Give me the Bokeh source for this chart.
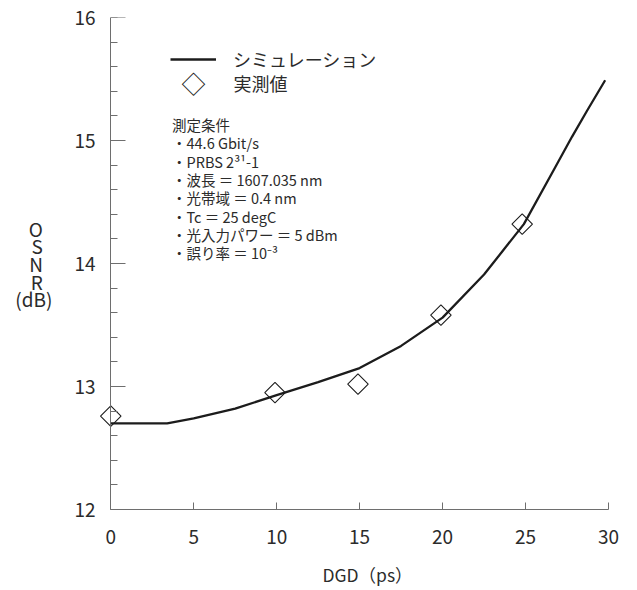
from bokeh.plotting import figure
from bokeh.models import (Range1d, SingleIntervalTicker, Label, Legend, LegendItem,
                          LinearAxis)
from bokeh.embed import file_html
from bokeh.resources import INLINE
import numpy as np

# ---- data ----
sim_dgd = [0, 3.4, 5, 7.5, 10, 12.5, 15, 17.5, 20, 22.5, 24.9, 26.7, 27.8, 28.7, 29.8]
sim_osnr = [12.70, 12.70, 12.74, 12.82, 12.93, 13.035, 13.15, 13.33, 13.56, 13.91, 14.32, 14.76, 15.03, 15.24, 15.49]
meas_dgd = [0.0, 9.9, 14.9, 19.9, 24.8]
meas_osnr = [12.76, 12.95, 13.02, 13.58, 14.32]

legend_labels = ["シミュレーション", "実測値"]
x_label = "DGD（ps）"
y_label_lines = ["O", "S", "N", "R", "(dB)"]
conditions = ["測定条件", "・44.6 Gbit/s", "・PRBS 2³¹-1", "・波長 ＝ 1607.035 nm",
              "・光帯域 ＝ 0.4 nm", "・Tc ＝ 25 degC", "・光入力パワー ＝ 5 dBm", "・誤り率 ＝ 10⁻³"]

FONT = "Noto Sans CJK JP"
TXT = "#2b2b2b"
AX = "#6e6e6e"
INK = "#1c1c1c"

W, H = 637, 590
BL, BR, BT, BB = 97, 0, 17, 81
FW, FH = W - BL - BR, H - BT - BB
PXU = 16.59                      # pixels per ps
XR = (-0.8, -0.8 + FW / PXU)
YR = (12, 16)

p = figure(width=W, height=H, output_backend="svg", toolbar_location=None,
           x_range=Range1d(*XR), y_range=Range1d(*YR),
           min_border_left=BL, min_border_right=BR, min_border_top=BT, min_border_bottom=BB)
p.outline_line_color = None
p.grid.visible = False
p.background_fill_color = "white"


def to_data(px, py):
    """figure pixel -> data coordinates"""
    xd = XR[0] + (px - BL) * (XR[1] - XR[0]) / FW
    yd = YR[1] - (py - BT) * (YR[1] - YR[0]) / FH
    return xd, yd


# ---- x axis ----
xa = p.xaxis[0]
xa.ticker = SingleIntervalTicker(interval=5, num_minor_ticks=0)
xa.bounds = (0, 30)
xa.major_tick_in = 7
xa.major_tick_out = 0
xa.minor_tick_in = 0
xa.minor_tick_out = 0
xa.major_label_standoff = 20
xa.major_label_text_font = FONT
xa.major_label_text_font_size = "19px"
xa.major_label_text_color = TXT
xa.axis_line_color = AX
xa.major_tick_line_color = AX
xa.axis_label = x_label
xa.axis_label_text_font = FONT
xa.axis_label_text_font_style = "normal"
xa.axis_label_text_font_size = "17.5px"
xa.axis_label_text_color = TXT
xa.axis_label_standoff = 15

# ---- y axis: tick labels and stacked title (at frame edge) ----
ya = p.yaxis[0]
ya.ticker = SingleIntervalTicker(interval=1, num_minor_ticks=0)
ya.axis_line_color = None
ya.major_tick_line_color = None
ya.minor_tick_line_color = None
ya.major_tick_in = 0
ya.major_tick_out = 0
ya.minor_tick_in = 0
ya.minor_tick_out = 0
ya.major_label_standoff = 2
ya.major_label_text_font = FONT
ya.major_label_text_font_size = "19px"
ya.major_label_text_color = TXT
# single letters padded with an en space so the right-aligned block looks centred
ya.axis_label = "\n".join(s if len(s) > 1 else s + "\u2002" for s in y_label_lines)
ya.axis_label_orientation = "horizontal"
ya.axis_label_text_font = FONT
ya.axis_label_text_font_style = "normal"
ya.axis_label_text_font_size = "19px"
ya.axis_label_text_color = TXT
ya.axis_label_text_line_height = 0.65
ya.axis_label_standoff = 19

# ---- y axis: line and inward ticks at DGD = 0 ----
yline = LinearAxis(fixed_location=0,
                   ticker=SingleIntervalTicker(interval=1, num_minor_ticks=5),
                   bounds=(12, 16),
                   axis_line_color=AX, major_tick_line_color=AX, minor_tick_line_color=AX,
                   major_tick_in=15, major_tick_out=0, minor_tick_in=7, minor_tick_out=0,
                   major_label_text_color=None, major_label_text_font_size="1px",
                   major_label_standoff=0)
p.add_layout(yline, "left")

# ---- data marks ----
r_line = p.line(sim_dgd, sim_osnr, line_color=INK, line_width=2.3)
r_pts = p.scatter(meas_dgd, meas_osnr, marker="square", angle=np.pi / 4, size=14.5,
                  fill_color=None, line_color=INK, line_width=1.1)

# ---- legend ----
legend = Legend(items=[LegendItem(label=legend_labels[0], renderers=[r_line])],
                location=(170 - BL, (BT + FH) - 72),
                glyph_width=46, glyph_height=22, label_standoff=17, spacing=0,
                padding=0, margin=0, border_line_color=None, background_fill_alpha=0,
                label_text_font=FONT, label_text_font_size="18px", label_text_color=TXT,
                label_height=22)
p.add_layout(legend)

xd, yd = to_data(193, 82)
p.add_layout(Label(x=xd, y=yd, text="◇", text_font=FONT, text_font_size="24px",
                   text_color=INK, text_align="center", text_baseline="middle"))
xd, yd = to_data(233, 82)
p.add_layout(Label(x=xd, y=yd, text=legend_labels[1], text_font=FONT, text_font_size="18px",
                   text_color=TXT, text_align="left", text_baseline="middle"))

# ---- measurement conditions ----
for i, txt in enumerate(conditions):
    xd, yd = to_data(171.5, 124 + i * 18.3)
    p.add_layout(Label(x=xd, y=yd, text=txt, text_font=FONT, text_font_size="14.5px",
                       text_color=TXT, text_align="left", text_baseline="middle"))

open("out.html", "w").write(file_html(p, INLINE))
